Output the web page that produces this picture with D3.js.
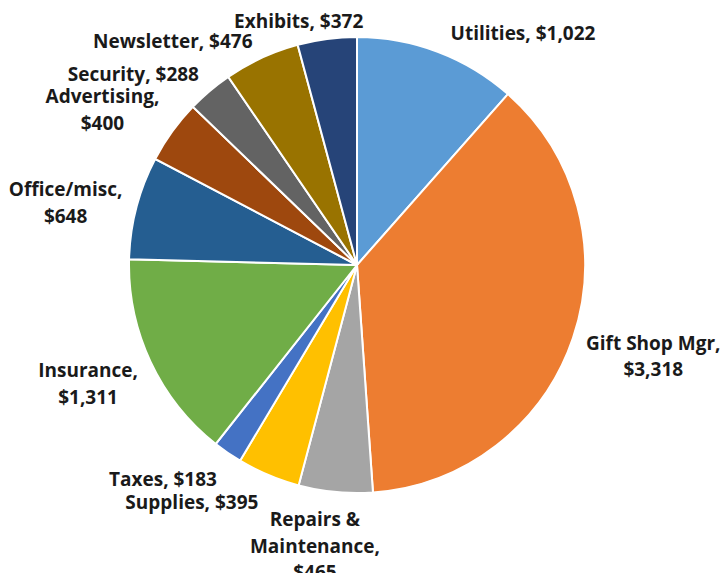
<!DOCTYPE html>
<html>
<head>
<meta charset="utf-8">
<script src="https://cdn.jsdelivr.net/npm/d3@7"></script>
<style>
  html, body { margin: 0; padding: 0; background: #fff; }
  svg { display: block; }
</style>
</head>
<body>
<div id="chart"></div>
<script>
// Museum expenses pie, clockwise from 12 o'clock
const categories = ['Utilities', 'Gift Shop Mgr', 'Repairs & Maintenance', 'Supplies', 'Taxes',
    'Insurance', 'Office/misc', 'Advertising', 'Security', 'Newsletter', 'Exhibits'];
const amounts = [1022, 3318, 465, 395, 183, 1311, 648, 400, 288, 476, 372];
// label line breaks as they appear in the chart
const labelLines = [
    ['Utilities, $1,022'],
    ['Gift Shop Mgr,', '$3,318'],
    ['Repairs &', 'Maintenance,', '$465'],
    ['Supplies, $395'],
    ['Taxes, $183'],
    ['Insurance,', '$1,311'],
    ['Office/misc,', '$648'],
    ['Advertising,', '$400'],
    ['Security, $288'],
    ['Newsletter, $476'],
    ['Exhibits, $372']
];
const colors = ['#5B9BD5', '#ED7D31', '#A5A5A5', '#FFC000', '#4472C4', '#70AD47',
    '#255E91', '#9E480E', '#636363', '#997300', '#264478'];

// manual label placement, like the hand-dragged labels in the original:
// [angle shift from slice middle (deg), distance from centre (px)]
const labelNudge = [[14.9, 285], [-1.6, 310], [3.1, 284], [12, 289], [7.6, 289], [1.3, 294],
    [-2.5, 298], [-4.5, 298], [-9.3, 294], [-14.7, 290], [-5.9, 251]];

const width = 725, height = 573;
const cx = 357, cy = 265, radius = 228;

const svg = d3.select("#chart").append("svg")
    .attr("width", width)
    .attr("height", height);

const rows = categories.map((c, i) => ({ name: c, value: amounts[i], lines: labelLines[i], i }));

const pie = d3.pie().value(d => d.value).sort(null);
const arc = d3.arc().innerRadius(0).outerRadius(radius);
const arcs = pie(rows);

const g = svg.append("g").attr("transform", `translate(${cx},${cy})`);

g.selectAll("path.slice")
    .data(arcs)
    .join("path")
    .attr("class", "slice")
    .attr("d", arc)
    .attr("fill", d => colors[d.data.i])
    .attr("stroke", "#fff")
    .attr("stroke-width", 2);

// labels
const lineH = 26.5;
g.selectAll("text.lbl")
    .data(arcs)
    .join("text")
    .attr("class", "lbl")
    .attr("text-anchor", "middle")
    .style("font-family", "'Open Sans', Lato, sans-serif")
    .style("font-weight", "bold")
    .style("font-size", "19px")
    .attr("fill", "#1a1a1a")
    .each(function(d) {
        const nudge = labelNudge[d.data.i];
        const a = (d.startAngle + d.endAngle) / 2 + nudge[0] * Math.PI / 180;
        const x = Math.sin(a) * nudge[1];
        const y = -Math.cos(a) * nudge[1];
        const n = d.data.lines.length;
        d3.select(this).selectAll("tspan")
            .data(d.data.lines)
            .join("tspan")
            .attr("x", x)
            .attr("y", (l, k) => y + (k - (n - 1) / 2) * lineH)
            .attr("dy", "0.35em")
            .text(l => l);
    });
</script>
</body>
</html>
